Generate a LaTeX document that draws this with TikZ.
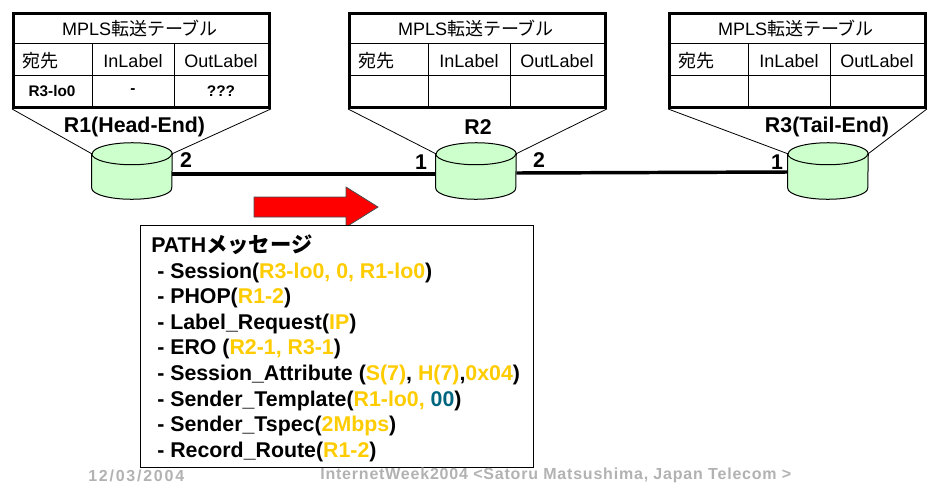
\documentclass[tikz,border=0pt]{standalone}
\usepackage{fontspec}
\setmainfont{Liberation Sans}
\newfontfamily\jpfont{Noto Sans CJK JP}
\newfontfamily\footfont[LetterSpace=5]{Liberation Sans}
\newfontfamily\datefont[LetterSpace=11]{Liberation Sans}
\usetikzlibrary{positioning,calc}
\definecolor{rtgreen}{RGB}{204,255,204}
\definecolor{argamber}{RGB}{255,204,0}
\definecolor{argteal}{RGB}{0,102,128}
\definecolor{footgray}{RGB}{178,178,178}
\newcommand{\argt}[1]{\textcolor{argamber}{#1}}
\begin{document}
\begin{tikzpicture}[x=0.75pt,y=0.75pt]
	\tikzset{
		tablebox/.style={
			draw,
			line width=2.2pt,
			minimum width=192pt,
			minimum height=70.5pt,
			inner sep=0pt
		},
		cell/.style={
			inner sep=0pt,
			font=\fontsize{13.5}{16}\selectfont
		},
		cellb/.style={
			inner sep=0pt,
			font=\fontsize{11.5}{13}\selectfont\bfseries
		},
		router/.style={
			minimum width=60pt,
			minimum height=42pt,
			inner sep=0pt
		},
		cyl/.style={
			draw,
			line width=0.75pt,
			fill=rtgreen
		},
		rlabel/.style={
			inner sep=0pt,
			font=\fontsize{16}{18}\selectfont\bfseries
		},
		zoomline/.style={
			line width=0.6pt
		},
		link/.style={
			line width=2.6pt
		},
		msgbox/.style={
			draw,
			fill=white,
			line width=1pt,
			anchor=north west,
			minimum width=294.75pt,
			minimum height=181.5pt
		},
		msgtext/.style={
			inner sep=0pt,
			align=left,
			font=\fontsize{16}{19.2}\selectfont\bfseries
		},
		foot/.style={
			inner sep=0pt,
			text=footgray,
			font=\fontsize{12}{14}\selectfont\bfseries
		}
	}
	\useasboundingbox (0,0) rectangle (928,-483);

	% tables
	\foreach \tbl/\tx in {ta/12, tb/348, tc/668} {
		\node[tablebox,anchor=north west] (\tbl) at (\tx,-12) {};
		\draw[line width=0.75pt] (\tx,-43) -- ++(256,0);
		\draw[line width=0.75pt] (\tx,-75) -- ++(256,0);
		\draw[line width=0.75pt] (\tx+80,-43) -- (\tx+80,-106);
		\draw[line width=0.75pt] (\tx+162,-43) -- (\tx+162,-106);
		\node[cell] (\tbl title) at (\tx+128,-29) {MPLS{\jpfont 転送テーブル}};
		\node[cell,anchor=west] (\tbl dst) at (\tx+10,-61) {\jpfont 宛先};
		\node[cell] (\tbl in) at (\tx+121,-61) {InLabel};
		\node[cell] (\tbl out) at (\tx+209,-61) {OutLabel};
	}
	\node[cellb] (dstval) at (52,-91) {R3-lo0};
	\node[cellb] (inval) at (133,-91) {-};
	\node[cellb] (outval) at (221,-91) {???};

	% routers
	\node[router] (r1) at (132,-171) {};
	\node[router] (r2) at (476,-171) {};
	\node[router] (r3) at (828,-171) {};
	\foreach \rt in {r1,r2,r3} {
		\coordinate (\rt tl) at ($(\rt.north west)+(0,-11)$);
		\coordinate (\rt tr) at ($(\rt.north east)+(0,-11)$);
		\draw[cyl] (\rt tl) -- ($(\rt.south west)+(0,11)$)
			arc[start angle=180,end angle=360,x radius=40,y radius=11]
			-- (\rt tr) arc[start angle=0,end angle=180,x radius=40,y radius=11] -- cycle;
		\draw[line width=0.75pt] (\rt tl) arc[start angle=180,end angle=360,x radius=40,y radius=11];
	}

	\draw[zoomline] (ta.south west) -- (r1tl);
	\draw[zoomline] (ta.south east) -- (r1tr);
	\draw[zoomline] (tb.south west) -- (r2tl);
	\draw[zoomline] (tb.south east) -- (r2tr);
	\draw[zoomline] (tc.south west) -- (r3tl);
	\draw[zoomline] (tc.south east) -- (r3tr);

	\node[rlabel] (r1name) at (134.5,-127) {R1(Head-End)};
	\node[rlabel] (r2name) at (478,-127) {R2};
	\node[rlabel] (r3name) at (827,-127) {R3(Tail-End)};

	% links
	\draw[link] ($(r1.east)+(0,-3)$) -- ($(r2.west)+(0,-3)$);
	\draw[link] ($(r2.east)+(0,-2)$) -- ($(r3.west)+(0,-1)$);
	\node[rlabel] (p12) at (186,-160) {2};
	\node[rlabel] (p21) at (421,-162) {1};
	\node[rlabel] (p22) at (539,-160) {2};
	\node[rlabel] (p31) at (777,-162) {1};

	% arrow + message
	\draw[fill=red,line width=0.6pt,draw=black!70] (254,-197) -- (346,-197) -- (346,-187) -- (378,-207)
		-- (346,-227) -- (346,-217) -- (254,-217) -- cycle;
	\node[msgbox] (msg) at (140,-225) {};
	\node[msgtext,anchor=west] (msgbody) at ($(msg.west)+(11,-1.5)$) {PATH{\jpfont メッセージ}\\
		\hspace*{4.5pt}- Session(\argt{R3-lo0, 0, R1-lo0})\\
		\hspace*{4.5pt}- PHOP(\argt{R1-2})\\
		\hspace*{4.5pt}- Label\_Request(\argt{IP})\\
		\hspace*{4.5pt}- ERO (\argt{R2-1, R3-1})\\
		\hspace*{4.5pt}- Session\_Attribute (\argt{S(7)}, \argt{H(7)},\argt{0x04})\\
		\hspace*{4.5pt}- Sender\_Template(\argt{R1-lo0, }\textcolor{argteal}{00})\\
		\hspace*{4.5pt}- Sender\_Tspec(\argt{2Mbps})\\
		\hspace*{4.5pt}- Record\_Route(\argt{R1-2})};

	% footer
	\node[foot,anchor=west] (date) at (88,-475.5) {\datefont 12/03/2004};
	\node[foot,anchor=west] (event) at (320,-475.5) {\footfont InternetWeek2004 <Satoru Matsushima, Japan Telecom >};
\end{tikzpicture}
\end{document}
